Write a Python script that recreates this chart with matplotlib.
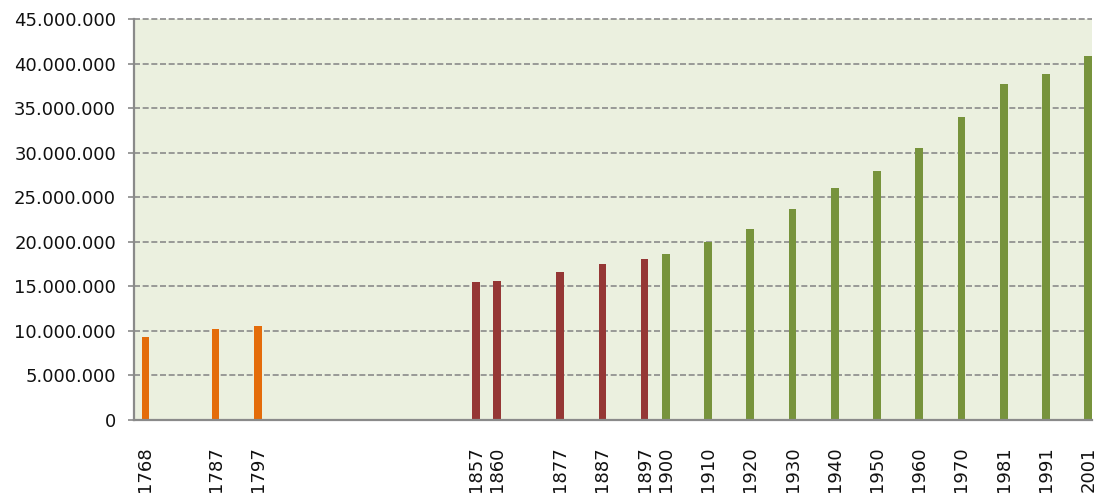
import numpy as np
import matplotlib
matplotlib.use("Agg")
import matplotlib.pyplot as plt
from matplotlib.ticker import FuncFormatter, NullLocator

# Census years and population (Spain)
years_18c = [1768, 1787, 1797]
pop_18c = [9_308_000, 10_200_000, 10_541_000]

years_19c = [1857, 1860, 1877, 1887, 1897]
pop_19c = [15_464_000, 15_645_000, 16_622_000, 17_550_000, 18_109_000]

years_20c = [1900, 1910, 1920, 1930, 1940, 1950, 1960, 1970, 1981, 1991, 2001]
pop_20c = [18_617_000, 19_991_000, 21_389_000, 23_677_000, 26_014_000,
           27_977_000, 30_529_000, 34_041_000, 37_683_000, 38_872_000, 40_847_000]

y_ticks = [0, 5_000_000, 10_000_000, 15_000_000, 20_000_000,
           25_000_000, 30_000_000, 35_000_000, 40_000_000, 45_000_000]

# Horizontal axis: census years are placed on 5-year slots (early years compressed)
AXIS_YEARS = [1700, 1768, 1787, 1797, 1857, 1860, 1877, 1887, 1897, 1900,
              1970, 1981, 1991, 2001, 2100]
AXIS_SLOTS = [1708.8, 1776.8, 1793.4, 1803.4, 1855, 1860, 1875, 1885, 1895, 1900,
              1970, 1980, 1990, 2000, 2099]


def to_slot(x):
    return np.interp(x, AXIS_YEARS, AXIS_SLOTS)


def from_slot(x):
    return np.interp(x, AXIS_SLOTS, AXIS_YEARS)


C_ORANGE = "#E46C0A"
C_RED = "#953735"
C_GREEN = "#77933C"
C_BG = "#EBF0DF"
C_GRID = "#8A8A8A"
C_TEXT = "#111111"

plt.rcParams["font.family"] = ["DejaVu Sans"]

fig = plt.figure(figsize=(11.03, 4.93), dpi=100)
ax = fig.add_axes([134 / 1103, 1 - 420 / 493, (1092 - 134) / 1103, (420 - 19) / 493])
ax.set_xscale("function", functions=(to_slot, from_slot))
ax.set_facecolor(C_BG)

SLOT_WIDTH = 1.8  # bar width measured on the slot axis


def draw_bars(years, values, color):
    centers = to_slot(np.asarray(years, dtype=float))
    left = from_slot(centers - SLOT_WIDTH / 2)
    right = from_slot(centers + SLOT_WIDTH / 2)
    ax.bar(left, values, width=right - left, align="edge", color=color,
           zorder=3, clip_on=False)


draw_bars(years_18c, pop_18c, C_ORANGE)
draw_bars(years_19c, pop_19c, C_RED)
draw_bars(years_20c, pop_20c, C_GREEN)

ax.set_xlim(from_slot(1774.1), from_slot(2000.9))
ax.set_ylim(0, 45_000_000)

all_years = years_18c + years_19c + years_20c
ax.set_xticks(all_years)
ax.set_xticklabels([str(y) for y in all_years], rotation=90)
ax.xaxis.set_minor_locator(NullLocator())
ax.tick_params(axis="x", length=0, pad=19, labelsize=13, labelcolor=C_TEXT)

ax.set_yticks(y_ticks)
ax.yaxis.set_major_formatter(FuncFormatter(lambda v, p: f"{int(v):,}".replace(",", ".")))
ax.tick_params(axis="y", length=4, width=1.2, color=C_GRID, pad=9,
               labelsize=13, labelcolor=C_TEXT)

ax.yaxis.grid(True, color=C_GRID, linewidth=1.2, linestyle=(0, (3.6, 1.6)), zorder=1)
ax.xaxis.grid(False)
ax.set_axisbelow(True)
for gl in ax.get_ygridlines():
    gl.set_clip_on(False)

for side in ("top", "right"):
    ax.spines[side].set_visible(False)
for side in ("left", "bottom"):
    ax.spines[side].set_color(C_GRID)
    ax.spines[side].set_linewidth(1.6)
    ax.spines[side].set_zorder(4)

fig.savefig("out.png", dpi=100)
